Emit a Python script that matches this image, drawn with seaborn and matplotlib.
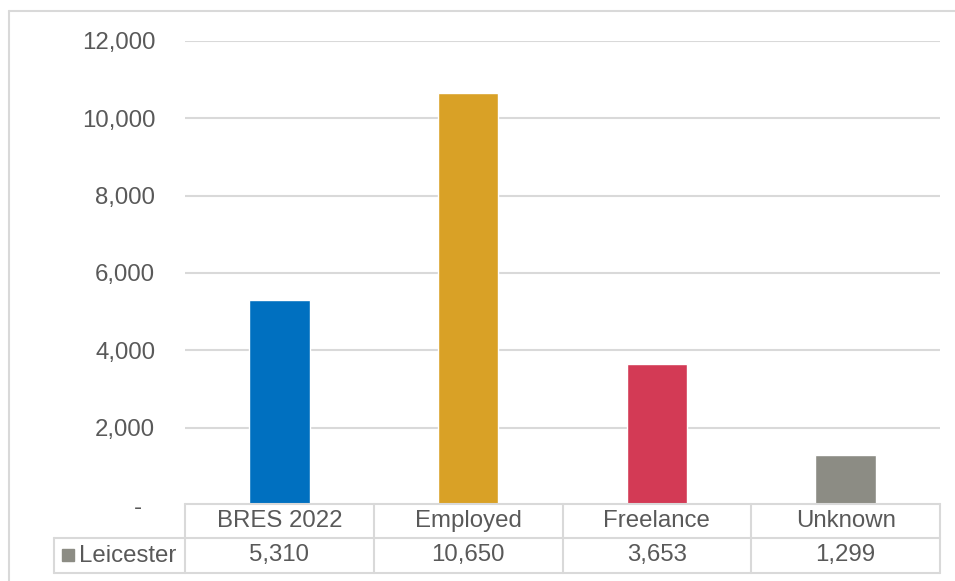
import matplotlib
matplotlib.use("Agg")
import matplotlib.pyplot as plt
import seaborn as sns
import pandas as pd
from matplotlib.lines import Line2D
from matplotlib.patches import Rectangle
from matplotlib.ticker import FuncFormatter

categories = ["BRES 2022", "Employed", "Freelance", "Unknown"]
values = [5310, 10650, 3653, 1299]
series_name = "Leicester"
bar_colors = ["#0070C0", "#D9A126", "#D33A55", "#8C8C84"]
legend_color = "#8C8C84"
yticks = [0, 2000, 4000, 6000, 8000, 10000, 12000]

sns.set_theme(style="white")
plt.rcParams["font.family"] = ["Liberation Sans", "DejaVu Sans"]

W, H = 955, 581
fig = plt.figure(figsize=(W / 100, H / 100), dpi=100)
L, R, T, B = 185, 940, 41, 505
ax = fig.add_axes([L / W, 1 - B / H, (R - L) / W, (B - T) / H])

df = pd.DataFrame({"cat": categories, "val": values})
sns.barplot(data=df, x="cat", y="val", hue="cat", palette=bar_colors,
            width=0.32, legend=False, ax=ax, saturation=1)

ax.set_xlim(-0.5, len(categories) - 0.5)
ax.set_ylim(0, 12000)
ax.set_yticks(yticks)
ax.yaxis.set_major_formatter(FuncFormatter(lambda v, p: "-  " if v == 0 else f"{int(v):,}"))
ax.tick_params(axis="y", labelsize=17.3, colors="#595959", length=0, pad=21.5)
ax.set_xticks([])
ax.set_xlabel("")
ax.set_ylabel("")
for s in ax.spines.values():
    s.set_visible(False)
ax.grid(axis="y", color="#D9D9D9", linewidth=1.5)
ax.grid(axis="x", visible=False)
ax.set_axisbelow(True)

gc = "#D9D9D9"
text_c = "#595959"

def fx(px):
    return px / W

def fy(py):
    return 1 - py / H

def hline(x0, x1, y):
    fig.add_artist(Line2D([fx(x0), fx(x1)], [fy(y), fy(y)], color=gc, lw=1.5, transform=fig.transFigure))

def vline(x, y0, y1):
    fig.add_artist(Line2D([fx(x), fx(x)], [fy(y0), fy(y1)], color=gc, lw=1.5, transform=fig.transFigure))

# outer chart border
hline(9, 955, 11)
vline(9, 11, 581)

# data table
cols = [185 + i * (R - L) / len(categories) for i in range(len(categories) + 1)]
y_top, y_mid, y_bot = 504, 538, 573
hline(L, R, y_top)
hline(54, R, y_mid)
hline(54, R, y_bot)
for c in cols:
    vline(c, y_top, y_bot)
vline(54, y_mid, y_bot)

for i, (cat, v) in enumerate(zip(categories, values)):
    xc = (cols[i] + cols[i + 1]) / 2
    fig.text(fx(xc), fy((y_top + y_mid) / 2), cat, ha="center", va="center",
             fontsize=17.3, color=text_c)
    fig.text(fx(xc), fy((y_mid + y_bot) / 2), f"{v:,}", ha="center", va="center",
             fontsize=17.3, color=text_c)

fig.add_artist(Rectangle((fx(62), fy(561)), fx(12), 12 / H, color=legend_color,
                         transform=fig.transFigure))
fig.text(fx(79), fy((y_mid + y_bot) / 2), series_name, ha="left", va="center",
         fontsize=17.3, color=text_c)

fig.savefig("out.png", dpi=100)
